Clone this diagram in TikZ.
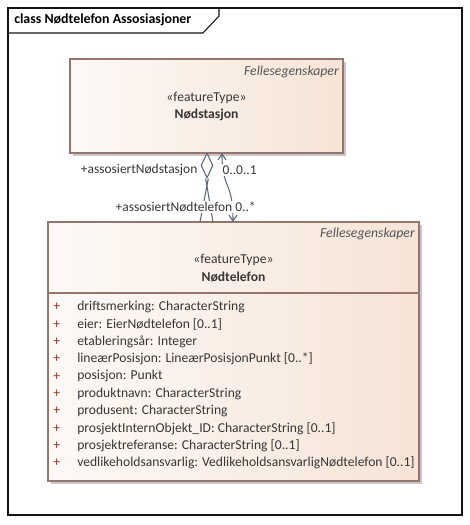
\documentclass[tikz,border=0pt]{standalone}
\usepackage{fontspec}
\setmainfont{Carlito}
\usetikzlibrary{shapes.geometric,arrows.meta,shadows}

\definecolor{framecol}{RGB}{20,20,20}
\definecolor{boxline}{RGB}{150,118,108}
\definecolor{boxleft}{RGB}{253,249,246}
\definecolor{boxright}{RGB}{246,228,214}
\definecolor{linkcol}{RGB}{95,105,125}
\definecolor{textcol}{RGB}{55,55,55}
\definecolor{pluscol}{RGB}{140,50,40}

\tikzset{
  classbox/.style={draw=boxline, line width=0.9pt, left color=boxleft, right color=boxright,
    drop shadow={shadow xshift=2.25pt, shadow yshift=-2.25pt, fill=black!22, opacity=1}},
  tagtext/.style={font=\fontsize{10.3}{12}\selectfont\itshape, text=textcol!85, inner sep=0pt},
  attr/.style={font=\fontsize{10.2}{12}\selectfont, text=textcol, anchor=west, inner sep=0pt},
  linklabel/.style={font=\fontsize{10.1}{12}\selectfont, text=textcol, fill=white, inner sep=1pt}
}

\begin{document}
\begin{tikzpicture}[x=0.75pt,y=-0.75pt]

      \useasboundingbox[fill=white] (0,0) rectangle (469,525);

      \draw[framecol, line width=0.8pt] (8,8) rectangle (462,515);
      \draw[framecol, line width=0.8pt] (8,33) -- (203,33) -- (219,16) -- (219,8);
      \node[anchor=west, inner sep=0pt, font=\fontsize{10.4}{12}\selectfont\bfseries] (title) at (14,20)
        {class Nødtelefon Assosiasjoner};

      \begin{scope}[every node/.style={classbox}]
        \node[minimum width=204.75pt, minimum height=70.5pt] (stasjon) at (206.5,106) {};
        \node[minimum width=278.25pt, minimum height=194.25pt] (telefon) at (233.5,351.5) {};
      \end{scope}

      \coordinate (sep1) at (48,293);
      \coordinate (sep2) at (419,293);
      \draw[boxline, line width=0.9pt] (sep1) -- (sep2);

      \node[tagtext, anchor=east] (tag1) at (339,72) {Fellesegenskaper};
      \node[attr, anchor=center] (stereo1) at (206.5,98) {«featureType»};
      \node[attr, anchor=center, font=\fontsize{10.2}{12}\selectfont\bfseries] (name1) at (206.5,115) {Nødstasjon};

      \node[tagtext, anchor=east] (tag2) at (415,234) {Fellesegenskaper};
      \node[attr, anchor=center] (stereo2) at (233.5,260) {«featureType»};
      \node[attr, anchor=center, font=\fontsize{10.2}{12}\selectfont\bfseries] (name2) at (233.5,277) {Nødtelefon};

      \foreach \a [count=\i] in {{driftsmerking: CharacterString},
          {eier: EierNødtelefon [0..1]},
          {etableringsår: Integer},
          {lineærPosisjon: LineærPosisjonPunkt [0..*]},
          {posisjon: Punkt},
          {produktnavn: CharacterString},
          {produsent: CharacterString},
          {prosjektInternObjekt\_ID: CharacterString [0..1]},
          {prosjektreferanse: CharacterString [0..1]},
          {vedlikeholdsansvarlig: VedlikeholdsansvarligNødtelefon [0..1]}} {
        \node[attr, text=pluscol] (plus\i) at (53,{307+17.33*(\i-1)}) {+};
        \node[attr] (attr\i) at (77,{307+17.33*(\i-1)}) {\a};
      }

      \node[draw=linkcol, fill=boxleft, diamond, inner sep=0pt, minimum width=9pt,
        minimum height=18.75pt, line width=0.8pt] (agg) at (207,165.5) {};
      \coordinate (aggA) at (213,222);
      \coordinate (aggB) at (200,222);
      \coordinate (navA) at (222,153);
      \coordinate (navB) at (233,222);

      \begin{scope}[linkcol, line width=0.8pt]
        \draw ([xshift=-1pt]agg.south) -- (aggA);
        \draw ([xshift=1pt]agg.south) -- (aggB);
        \draw[{Straight Barb[length=4.5pt,width=6pt]}-{Straight Barb[length=4.5pt,width=6pt]}]
          (navA) .. controls (222,190) and (233,180) .. (navB);
      \end{scope}

      \node[linklabel, anchor=east] (role1) at (199,170) {+assosiertNødstasjon};
      \node[linklabel, anchor=west] (mult1) at (221,170) {0..0..1};
      \node[linklabel, anchor=west] (role2) at (114,207) {+assosiertNødtelefon 0..*};

    \end{tikzpicture}
\end{document}
